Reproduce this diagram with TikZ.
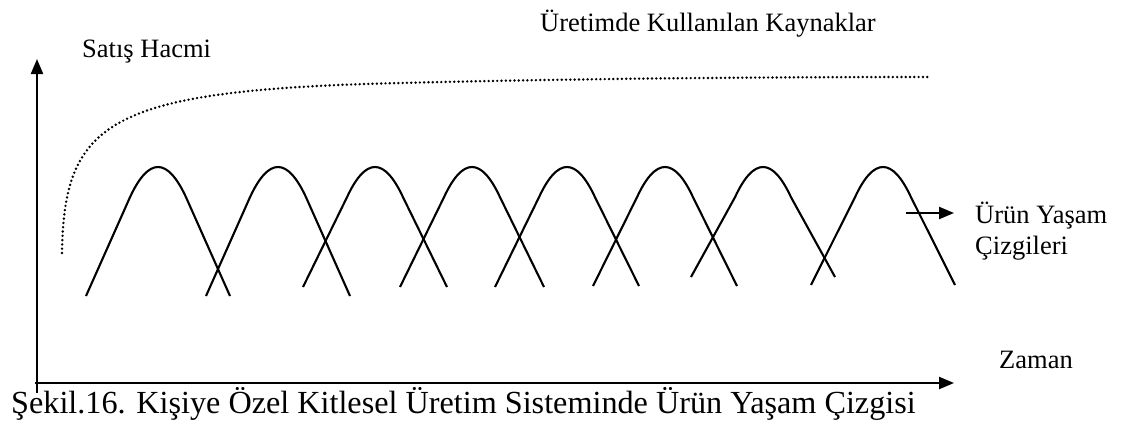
\documentclass[tikz,border=0pt]{standalone}
\usepackage{fontspec}
\setmainfont{Liberation Serif}
\usetikzlibrary{arrows.meta}

\begin{document}
\begin{tikzpicture}[
    x=1pt, y=-1pt,
    every node/.style={inner sep=0pt, font=\fontsize{26.5}{31}\selectfont},
    axis/.style={line width=2.2pt, -{Triangle[length=15pt, width=12pt]}},
    lifeline/.style={line width=2.1pt},
    resource/.style={line width=2.7pt, line cap=round, dash pattern=on 0pt off 4.3pt},
    pointer/.style={line width=2.2pt, -{Triangle[length=15pt, width=12pt]}},
    caption/.style={font=\fontsize{32.2}{36}\selectfont}
]
\useasboundingbox (0,0) rectangle (1123,436);

% axes
\coordinate (origin) at (37,393);
\coordinate (ytip) at (37,59);
\coordinate (xstart) at (35,383);
\coordinate (xtip) at (954,383);
\draw[axis] (origin) -- (ytip);
\draw[axis] (xstart) -- (xtip);

% labels
\node[anchor=base west] (sales) at (82,57) {Satış Hacmi};
\node[anchor=base west] (resources) at (540,32) {Üretimde Kullanılan Kaynaklar};
\node[anchor=base west] (time) at (999,368) {Zaman};
\node[anchor=base west, align=left] (lifelabel) at (975,254) {Ürün Yaşam\\Çizgileri};
\node[caption, anchor=base west] (title) at (11,413) {Şekil.16. Kişiye Özel Kitlesel Üretim Sisteminde Ürün Yaşam Çizgisi};

% resources used in production
\coordinate (resstart) at (62,253);
\coordinate (resend) at (928,77);
\draw[resource] (resstart) .. controls (64,120) and (110,90) .. (400,83)
    .. controls (600,78) and (800,77) .. (resend);

% product life curves
\foreach \p/\lb/\rb in {158/296/296, 278/296/296, 375/287/287, 472/287/287,
                        567/287/286, 665/286/286, 763/277/277, 883/285/285}
  \draw[lifeline] ({\p-72},\lb) -- ({\p-28},197.2)
      .. controls ({\p-18.67},177.07) and ({\p-9.33},167) .. (\p,167)
      .. controls ({\p+9.33},167) and ({\p+18.67},177.07) .. ({\p+28},197.2)
      -- ({\p+72},\rb);

\coordinate (arrowtail) at (906,213);
\coordinate (arrowhead) at (954,213);
\draw[pointer] (arrowtail) -- (arrowhead);
\end{tikzpicture}
\end{document}
